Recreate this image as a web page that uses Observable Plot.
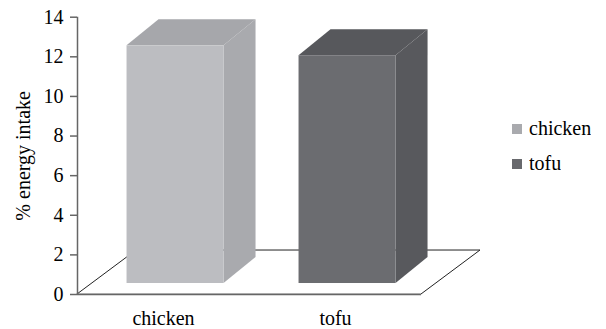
<!DOCTYPE html>
<html><head><meta charset="utf-8">
<script src="https://cdn.jsdelivr.net/npm/d3@7"></script>
<script src="https://cdn.jsdelivr.net/npm/@observablehq/plot@0.6"></script>
</head><body style="margin:0;background:#fff">
<div id="wrap" style="position:relative;width:606px;height:329px;overflow:hidden;background:#fff"><div id="legend" style="position:absolute;left:512px;top:111px"></div></div>
<script>
const categories = ["chicken", "tofu"];
const values = [12.0, 11.5];
const yTicks = [0, 2, 4, 6, 8, 10, 12, 14];
const frontColors = ["#bcbdc1", "#6b6c70"];
const sideColors = ["#a9aaae", "#58595d"];
const topColors = ["#a6a7ab", "#57585c"];
const legendColors = ["#a9aaae", "#68696d"];
const yLabel = "% energy intake";
const fontName = "Liberation Serif";

// 3-D geometry, in data units
const floorDepthX = 0.343, floorDepthY = 2.22;
const barWidth = 0.564, barOffsetX = 0.07, barOffsetY = 0.555, barDepthX = 0.186, barDepthY = 1.311;

const n = categories.length;
const colorOf = (arr) => (d) => arr[categories.indexOf(d.c)];
const bars = categories.map((c, i) => {
  const xc = i + 0.5 + barOffsetX;
  return {c, xl: xc - barWidth / 2, xr: xc + barWidth / 2, y0: barOffsetY, y1: values[i] + barOffsetY};
});
const sides = bars.flatMap(b => [
  {c: b.c, x: b.xr, y1: b.y0, y2: b.y1},
  {c: b.c, x: b.xr + barDepthX, y1: b.y0 + barDepthY, y2: b.y1 + barDepthY}
]);
const tops = bars.flatMap(b => [
  {c: b.c, y: b.y1, x1: b.xl, x2: b.xr},
  {c: b.c, y: b.y1 + barDepthY, x1: b.xl + barDepthX, x2: b.xr + barDepthX}
]);
const floor = [
  {y: 0, x1: 0, x2: n},
  {y: floorDepthY, x1: floorDepthX, x2: n + floorDepthX}
];

const chart = Plot.plot({
  width: 606, height: 329,
  marginLeft: 77, marginRight: 185, marginTop: 16.7, marginBottom: 35,
  x: {domain: [0, n], axis: null},
  y: {domain: [0, 14], axis: null},
  color: {type: "identity"},
  marks: [
    Plot.area(floor, {x1: "x1", x2: "x2", y1: "y", fill: "white", stroke: "#222", strokeWidth: 1}),
    Plot.ruleY([0], {x1: 0, x2: n, stroke: "#666", strokeWidth: 1.5}),
    Plot.ruleX([0], {y1: 0, y2: 14, stroke: "#666", strokeWidth: 1.5}),
    Plot.axisY({ticks: yTicks, tickSize: 7, tickPadding: 7, fontSize: 20, fontFamily: fontName, stroke: "#666", strokeWidth: 1.5,
      label: yLabel, labelAnchor: "center", labelOffset: 62, labelArrow: "none"}),
    Plot.axisX({ticks: [0.5, 1.5], tickSize: 0, tickPadding: 16, fontSize: 20, fontFamily: fontName,
      tickFormat: d => categories[Math.floor(d)], label: null}),
    Plot.area(sides, {x1: "x", y1: "y1", y2: "y2", z: "c", fill: colorOf(sideColors)}),
    Plot.area(tops, {x1: "x1", x2: "x2", y1: "y", z: "c", fill: colorOf(topColors)}),
    Plot.rect(bars, {x1: "xl", x2: "xr", y1: "y0", y2: "y1", fill: colorOf(frontColors)})
  ]
});
chart.style.position = "absolute";
chart.style.left = "0px";
chart.style.top = "0px";
chart.style.background = "#fff";
document.getElementById("wrap").prepend(chart);

const leg = Plot.legend({
  color: {type: "ordinal", domain: categories, range: legendColors, legend: "swatches"},
  columns: 1, swatchSize: 10, className: "leg"
});
leg.style.fontFamily = fontName;
leg.style.fontSize = "20px";
leg.style.margin = "0";
leg.querySelectorAll(".leg-swatch").forEach(s => {
  s.style.height = "35px";
  s.style.paddingBottom = "0px";
  const sv = s.querySelector("svg");
  if (sv) sv.style.marginRight = "7px";
});
document.getElementById("legend").append(leg);
</script>
</body></html>
